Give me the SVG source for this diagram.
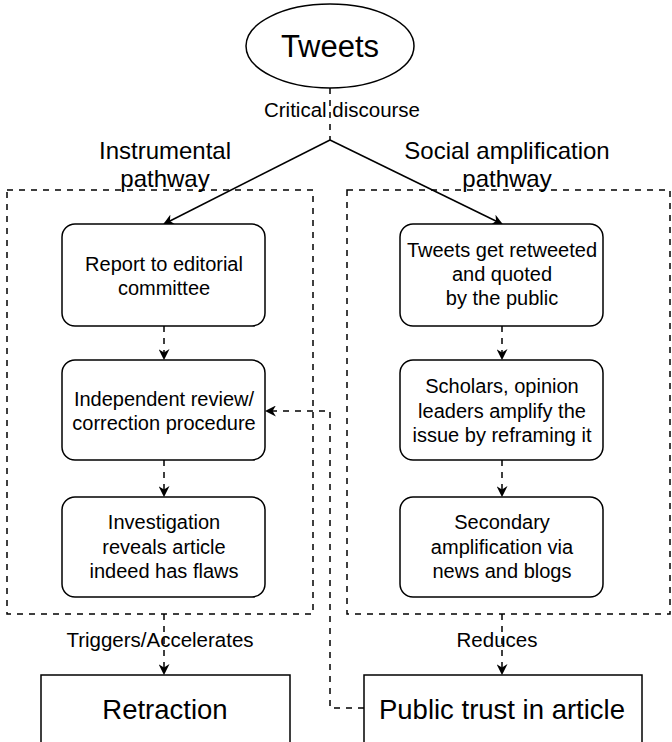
<svg xmlns="http://www.w3.org/2000/svg" width="672" height="742" viewBox="0 0 672 742">
<defs>
<style>
text{font-family:"Liberation Sans",Arial,sans-serif;fill:#000;text-anchor:middle}
.n{fill:#fff;stroke:#000;stroke-width:1.5}
.c{fill:none;stroke:#000;stroke-width:1.5}
.d{fill:none;stroke:#000;stroke-width:1.5;stroke-dasharray:6 6}
.t{font-size:20px}
.lbl{font-size:20.5px}
.h{font-size:24px}
.big{font-size:27.5px}
</style>
<marker id="a" viewBox="0 0 10 10" refX="9" refY="5" markerWidth="11" markerHeight="11" markerUnits="userSpaceOnUse" orient="auto"><path d="M0,0 L10,5 L0,10 L3,5 z" fill="#000"/></marker>
</defs>
<rect width="672" height="742" fill="#fff"/>
<g id="containers">
<rect class="d" x="7" y="190" width="306" height="424"/>
<rect class="d" x="347" y="190" width="323" height="424"/>
<text class="h" x="165" y="159">Instrumental</text>
<text class="h" x="165" y="187">pathway</text>
<text class="h" x="507" y="159">Social amplification</text>
<text class="h" x="507" y="187">pathway</text>
</g>
<g id="connectors">
<line class="d" x1="330" y1="88" x2="330" y2="140"/>
<path class="c" d="M330,140 L164,224" marker-end="url(#a)"/>
<path class="c" d="M330,140 L502,224" marker-end="url(#a)"/>
<path class="d" d="M164,326 V359" marker-end="url(#a)"/>
<path class="d" d="M164,460 V496" marker-end="url(#a)"/>
<path class="d" d="M502,326 V359" marker-end="url(#a)"/>
<path class="d" d="M502,460 V496" marker-end="url(#a)"/>
<path class="d" d="M164,614 V674" marker-end="url(#a)"/>
<path class="d" d="M502,614 V674" marker-end="url(#a)"/>
<path class="d" d="M364,708 H330 V411 H266" marker-end="url(#a)"/>
<text class="lbl" x="342" y="117">Critical discourse</text>
<text class="lbl" x="160" y="647">Triggers/Accelerates</text>
<text class="lbl" x="497" y="647">Reduces</text>
</g>
<g id="tweets">
<ellipse class="n" cx="330" cy="46" rx="84" ry="42"/>
<text class="big" x="330" y="57" style="font-size:31px">Tweets</text>
</g>
<g id="report">
<rect class="n" x="62" y="224" width="203" height="102" rx="13"/>
<text class="t" x="164" y="271">Report to editorial</text>
<text class="t" x="164" y="295">committee</text>
</g>
<g id="review">
<rect class="n" x="62" y="360" width="203" height="100" rx="13"/>
<text class="t" x="164" y="406">Independent review/</text>
<text class="t" x="164" y="430">correction procedure</text>
</g>
<g id="investigation">
<rect class="n" x="62" y="497" width="203" height="100" rx="13"/>
<text class="t" x="164" y="529">Investigation</text>
<text class="t" x="164" y="554">reveals article</text>
<text class="t" x="164" y="578">indeed has flaws</text>
</g>
<g id="retweeted">
<rect class="n" x="400" y="224" width="203" height="102" rx="13"/>
<text class="t" x="502" y="257">Tweets get retweeted</text>
<text class="t" x="502" y="281">and quoted</text>
<text class="t" x="502" y="305">by the public</text>
</g>
<g id="scholars">
<rect class="n" x="400" y="360" width="203" height="100" rx="13"/>
<text class="t" x="502" y="393">Scholars, opinion</text>
<text class="t" x="502" y="418">leaders amplify the</text>
<text class="t" x="502" y="442">issue by reframing it</text>
</g>
<g id="secondary">
<rect class="n" x="400" y="497" width="203" height="100" rx="13"/>
<text class="t" x="502" y="529">Secondary</text>
<text class="t" x="502" y="554">amplification via</text>
<text class="t" x="502" y="578">news and blogs</text>
</g>
<g id="retraction">
<rect class="n" x="41" y="675" width="249" height="80"/>
<text class="big" x="165" y="719">Retraction</text>
</g>
<g id="trust">
<rect class="n" x="364" y="675" width="278" height="80"/>
<text class="big" x="502" y="719">Public trust in article</text>
</g>
</svg>
